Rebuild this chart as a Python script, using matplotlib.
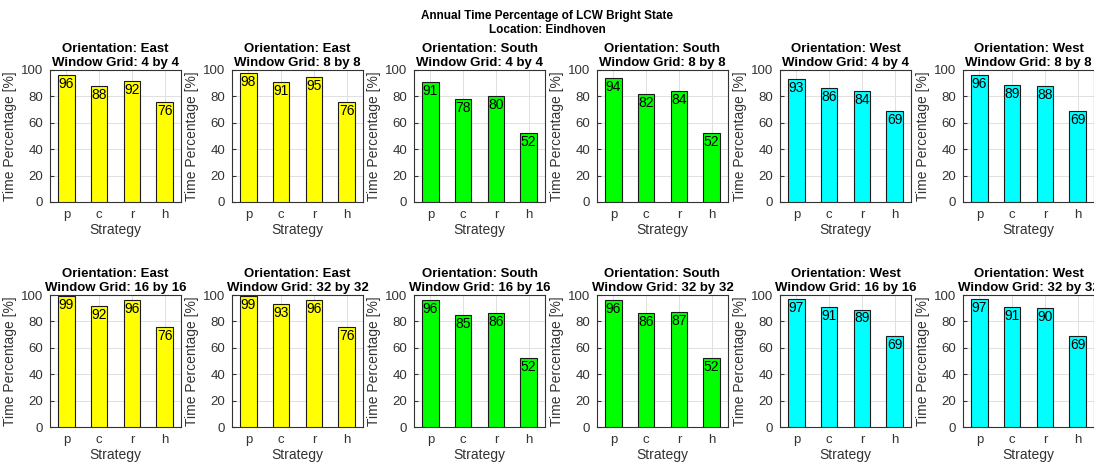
import numpy as np
import matplotlib
matplotlib.use("Agg")
import matplotlib.pyplot as plt

plt.rcParams['font.family'] = ['Liberation Sans', 'DejaVu Sans']

STRATEGIES = ['p', 'c', 'r', 'h']
ORIENTATIONS = ['East', 'East', 'South', 'South', 'West', 'West']
GRIDS_TOP = [4, 8, 4, 8, 4, 8]
GRIDS_BOTTOM = [16, 32, 16, 32, 16, 32]
COLORS = {'East': (1, 1, 0), 'South': (0, 1, 0), 'West': (0, 1, 1)}

east_4 = [96, 88, 92, 76]
east_8 = [98, 91, 95, 76]
south_4 = [91, 78, 80, 52]
south_8 = [94, 82, 84, 52]
west_4 = [93, 86, 84, 69]
west_8 = [96, 89, 88, 69]
east_16 = [99, 92, 96, 76]
east_32 = [99, 93, 96, 76]
south_16 = [96, 85, 86, 52]
south_32 = [96, 86, 87, 52]
west_16 = [97, 91, 89, 69]
west_32 = [97, 91, 90, 69]

TOP_ROW = [east_4, east_8, south_4, south_8, west_4, west_8]
BOTTOM_ROW = [east_16, east_32, south_16, south_32, west_16, west_32]

FIG_W, FIG_H = 1094, 463
AX_LEFTS = [50, 232, 414, 597, 780, 963]
AX_W = 131
ROW_TOPS = [70, 295]
AX_H = 132
AXIS_GRAY = (0.2, 0.2, 0.2)


def draw_panel(ax, values, orientation, grid):
    x = np.arange(1, len(values) + 1)
    ax.bar(x, values, width=0.5, color=COLORS[orientation],
           edgecolor=(0.1, 0.1, 0.1), linewidth=0.8, zorder=3)
    for xi, v in zip(x, values):
        ax.text(xi, v - 1.5, f"{v:d}", ha='center', va='top',
                fontsize=10, color='black', zorder=4)
    ax.set_xlim(0.5, 4.5)
    ax.set_ylim(0, 100)
    ax.set_xticks(x)
    ax.set_xticklabels(STRATEGIES)
    ax.set_yticks(np.arange(0, 101, 20))
    ax.grid(True, color=(0.88, 0.88, 0.88), linewidth=0.7, zorder=0)
    ax.tick_params(direction='in', length=3, labelsize=9.5,
                   colors=AXIS_GRAY, labelcolor=AXIS_GRAY, pad=5)
    for sp in ax.spines.values():
        sp.set_color(AXIS_GRAY)
        sp.set_linewidth(0.8)
    ax.set_xlabel('Strategy', fontsize=10, color=AXIS_GRAY, labelpad=1.5)
    ax.set_ylabel('Time Percentage [%]', fontsize=10, color=AXIS_GRAY,
                  labelpad=3)
    ax.set_title(f"Orientation: {orientation}\nWindow Grid: {grid} by {grid}",
                 fontsize=9.5, fontweight='bold', pad=3, linespacing=1.25)


def main():
    fig = plt.figure(figsize=(FIG_W / 100, FIG_H / 100), dpi=100)
    for row, (top, data, grids) in enumerate(zip(ROW_TOPS, [TOP_ROW, BOTTOM_ROW],
                                                 [GRIDS_TOP, GRIDS_BOTTOM])):
        for col in range(6):
            left = AX_LEFTS[col] / FIG_W
            bottom = 1 - (top + AX_H) / FIG_H
            ax = fig.add_axes([left, bottom, AX_W / FIG_W, AX_H / FIG_H])
            draw_panel(ax, data[col], ORIENTATIONS[col], grids[col])
    fig.text(0.5, 1 - 10 / FIG_H, 'Annual Time Percentage of LCW Bright State\nLocation: Eindhoven',
             ha='center', va='top', fontsize=8.5, fontweight='bold',
             linespacing=1.25)
    fig.savefig('out.png', dpi=100)


if __name__ == "__main__":
    main()
